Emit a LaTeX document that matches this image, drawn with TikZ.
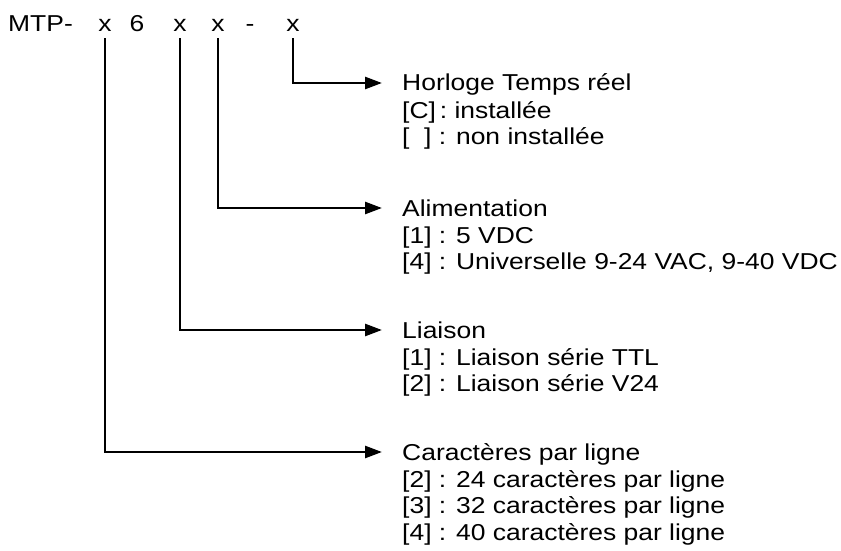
\documentclass[tikz,border=0pt]{standalone}
\usepackage{fontspec}
\setmainfont[FakeStretch=1.15]{Liberation Sans}
\usetikzlibrary{arrows.meta,positioning}

\begin{document}
\begin{tikzpicture}[x=1pt,y=-1pt,
  every node/.style={inner sep=0pt,font=\fontsize{23}{26.5}\selectfont},
  code/.style={anchor=base},
  title/.style={anchor=west,text height=16pt,text depth=0pt},
  items/.style={anchor=north west,align=left},
  link/.style={line width=2.6pt,-{Triangle[length=17pt,width=12pt]},shorten >=20pt}]
\useasboundingbox (0,0) rectangle (841,551);
\node[anchor=base west] (mtp) at (8,32) {MTP-};
\node[code] (x1) at (105,32) {x};
\node[code] (six) at (137,32) {6};
\node[code] (x2) at (180,32) {x};
\node[code] (x3) at (218,32) {x};
\node[code] (dash) at (250,32) {-};
\node[code] (x4) at (293,32) {x};
\node[title] (horloge) at (402,83) {Horloge Temps réel};
\node[items] (horlogeopt) at ([yshift=-10pt]horloge.south west) {[C]\,: installée\\{[\ \ ]} : non installée};
\node[title] (alim) at (402,208) {Alimentation};
\node[items] (alimopt) at ([yshift=-10pt]alim.south west) {[1] : 5 VDC\\{[4]} : Universelle 9-24 VAC, 9-40 VDC};
\node[title] (liaison) at (402,330) {Liaison};
\node[items] (liaisonopt) at ([yshift=-10pt]liaison.south west) {[1] : Liaison série TTL\\{[2]} : Liaison série V24};
\node[title] (carac) at (402,452) {Caractères par ligne};
\node[items] (caracopt) at ([yshift=-10pt]carac.south west) {[2] : 24 caractères par ligne\\{[3]} : 32 caractères par ligne\\{[4]} : 40 caractères par ligne};
\draw[link] ([yshift=-6pt]x4.south) |- (horloge.west);
\draw[link] ([yshift=-6pt]x3.south) |- (alim.west);
\draw[link] ([yshift=-6pt]x2.south) |- (liaison.west);
\draw[link] ([yshift=-6pt]x1.south) |- (carac.west);
\end{tikzpicture}
\end{document}
